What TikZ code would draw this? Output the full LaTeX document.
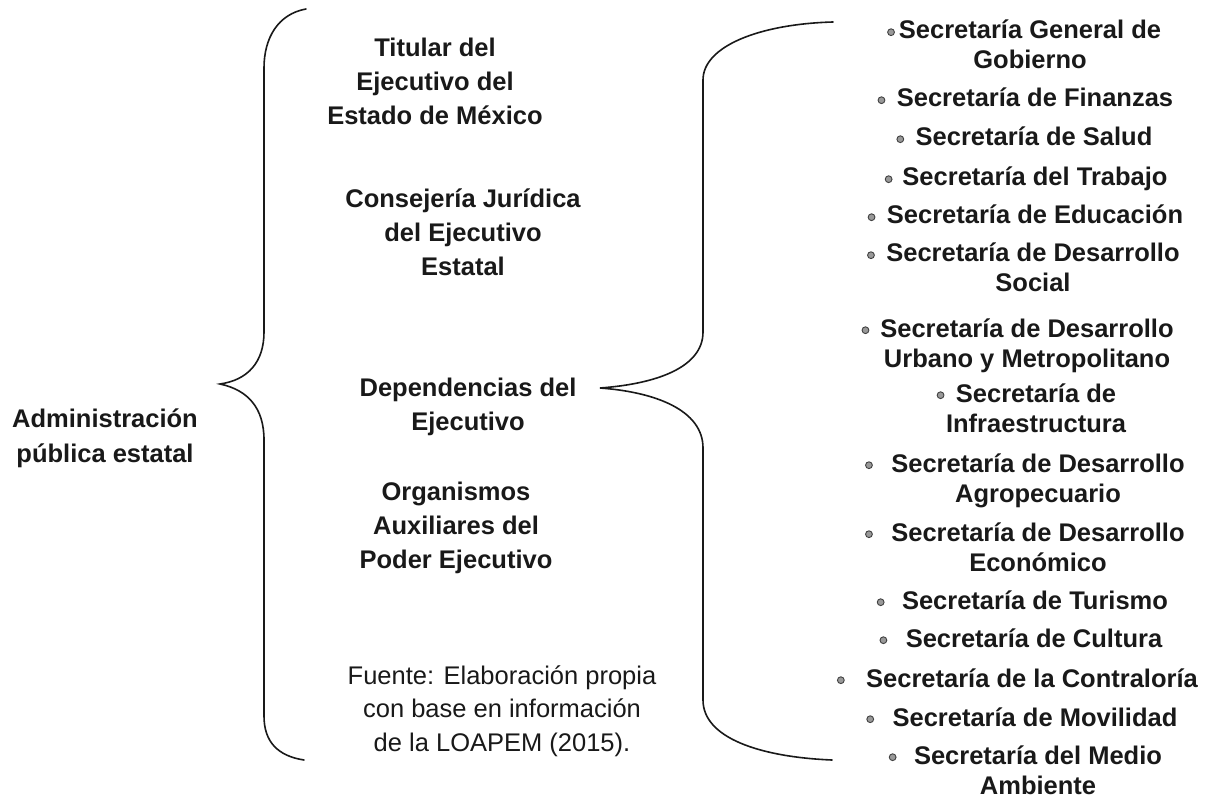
\documentclass[tikz,border=0pt]{standalone}
\usepackage{fontspec}
\setmainfont{Liberation Sans}
\newcommand{\bul}[1]{\llap{\tikz[baseline=-6.8pt]\draw[line width=0.9pt,draw=black!75,fill=black!40] (0,0) circle[radius=3.4pt];\hspace{#1}}}
\begin{document}
\begin{tikzpicture}[x=1pt,y=-1pt,
  lbl/.style={font=\fontsize{25.5}{34}\selectfont\bfseries, align=center, anchor=base, inner sep=0pt, text=black!90},
  itm/.style={font=\fontsize{25.5}{30}\selectfont\bfseries, align=center, anchor=base, inner sep=0pt, text=black!90},
  src/.style={font=\fontsize{25.5}{33.5}\selectfont, align=center, anchor=base, inner sep=0pt, text=black!90},
  brace/.style={line width=1.6pt, line cap=round, draw=black!90}]
\useasboundingbox[fill=white] (0,0) rectangle (1206,799);

% left label (anchor base = baseline of the last line)
\node[lbl, font=\fontsize{25.5}{35}\selectfont\bfseries] (adm) at (105,462) {Administración\\pública estatal};

% left brace
\coordinate (lt) at (306,9);
\coordinate (ltip) at (220,384);
\coordinate (lb) at (304,760);
\draw[brace] (lt) .. controls (278,14) and (264,38) .. (264,68) -- (264,332)
  .. controls (264,362) and (248,380) .. (ltip)
  .. controls (248,390) and (264,408) .. (264,440) -- (264,716)
  .. controls (264,742) and (278,756) .. (lb);

% middle column
\node[lbl] (tit) at (435,125) {Titular del\\Ejecutivo del\\Estado de México};
\node[lbl] (con) at (463,276) {Consejería Jurídica\\del Ejecutivo\\Estatal};
\node[lbl] (dep) at (468,430) {Dependencias del\\Ejecutivo};
\node[lbl] (org) at (456,568) {Organismos\\Auxiliares del\\Poder Ejecutivo};
\node[src] (fue) at (502,751) {Fuente: Elaboración propia\\con base en información\\de la LOAPEM (2015).};

% right brace
\coordinate (rt) at (833,22);
\coordinate (rtip) at (600,388);
\coordinate (rb) at (832,760);
\draw[brace] (rt) .. controls (760,24) and (703,46) .. (703,80) -- (703,332)
  .. controls (703,368) and (655,384) .. (rtip)
  .. controls (655,392) and (703,410) .. (703,448) -- (703,700)
  .. controls (703,738) and (760,757) .. (rb);

% right column
\node[itm] (s1) at (1030,69) {\bul{4pt}Secretaría General de\\Gobierno};
\node[itm] (s2) at (1035,107) {\bul{11.5pt}Secretaría de Finanzas};
\node[itm] (s3) at (1034,146) {\bul{11.5pt}Secretaría de Salud};
\node[itm] (s4) at (1035,186) {\bul{10pt}Secretaría del Trabajo};
\node[itm] (s5) at (1035,224) {\bul{11.5pt}Secretaría de Educación};
\node[itm] (s6) at (1033,292) {\bul{11.5pt}Secretaría de Desarrollo\\Social};
\node[itm] (s7) at (1027,367) {\bul{11pt}Secretaría de Desarrollo\\Urbano y Metropolitano};
\node[itm] (s8) at (1036,432) {\bul{11.5pt}Secretaría de\\Infraestructura};
\node[itm] (s9) at (1038,502) {\bul{18.5pt}Secretaría de Desarrollo\\Agropecuario};
\node[itm] (s10) at (1038,571) {\bul{18.5pt}Secretaría de Desarrollo\\Económico};
\node[itm] (s11) at (1035,609) {\bul{17.5pt}Secretaría de Turismo};
\node[itm] (s12) at (1034,647) {\bul{18.5pt}Secretaría de Cultura};
\node[itm] (s13) at (1032,687) {\bul{21.5pt}Secretaría de la Contraloría};
\node[itm] (s14) at (1035,726) {\bul{18.5pt}Secretaría de Movilidad};
\node[itm] (s15) at (1038,794) {\bul{17.5pt}Secretaría del Medio\\Ambiente};
\end{tikzpicture}
\end{document}
